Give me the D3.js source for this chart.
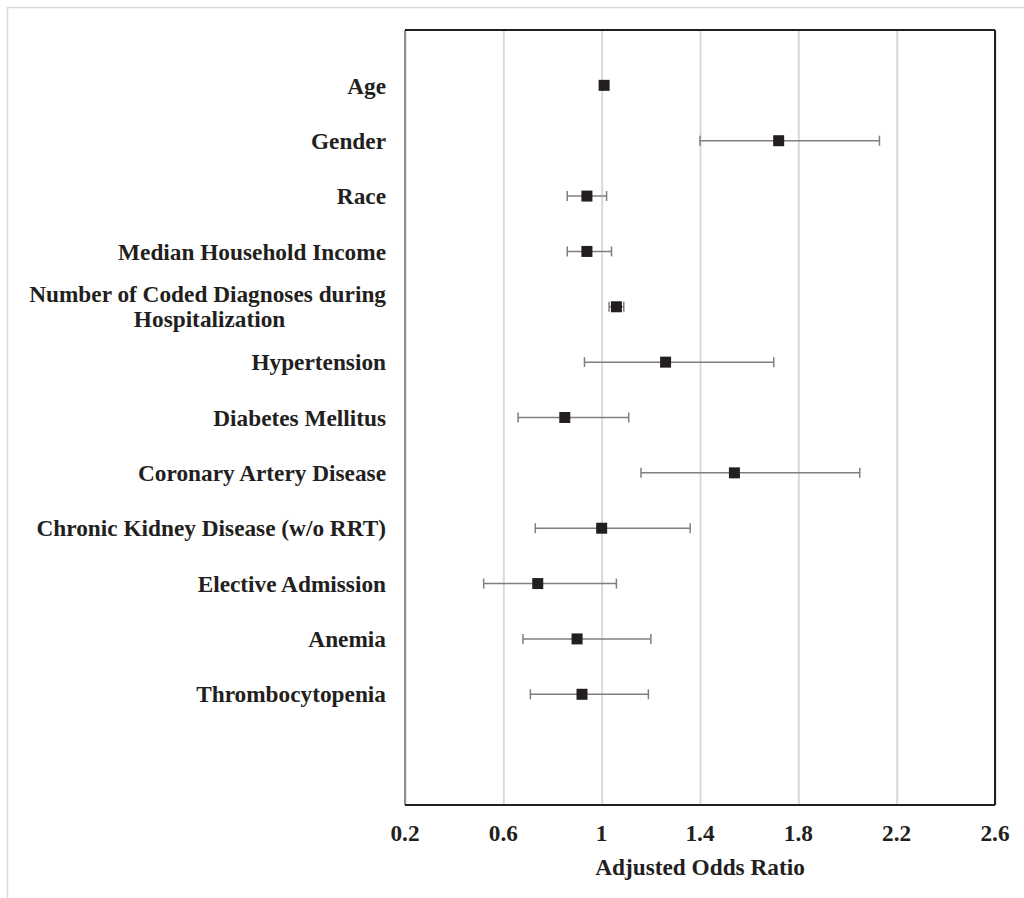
<!DOCTYPE html>
<html>
<head>
<meta charset="utf-8">
<script src="https://cdn.jsdelivr.net/npm/d3@7"></script>
<style>
  body { margin: 0; background: #fff; }
  text { font-family: "Liberation Serif", "Times New Roman", serif; font-weight: bold; fill: #231f20; }
</style>
</head>
<body>
<div id="viz"></div>
<script>
// variables top to bottom
let labels = [
  ["Age"],
  ["Gender"],
  ["Race"],
  ["Median Household Income"],
  ["Number of Coded Diagnoses during", "Hospitalization"],
  ["Hypertension"],
  ["Diabetes Mellitus"],
  ["Coronary Artery Disease"],
  ["Chronic Kidney Disease (w/o RRT)"],
  ["Elective Admission"],
  ["Anemia"],
  ["Thrombocytopenia"]
];
let oddsRatio = [1.01, 1.72, 0.94, 0.94, 1.06, 1.26, 0.85, 1.54, 1.00, 0.74, 0.90, 0.92];
let ciLow     = [1.01, 1.40, 0.86, 0.86, 1.03, 0.93, 0.66, 1.16, 0.73, 0.52, 0.68, 0.71];
let ciHigh    = [1.01, 2.13, 1.02, 1.04, 1.09, 1.70, 1.11, 2.05, 1.36, 1.06, 1.20, 1.19];
let xTicks = [0.2, 0.6, 1, 1.4, 1.8, 2.2, 2.6];

let data = labels.map((l, i) => ({
  label: l, pos: i + 1, or: oddsRatio[i], lo: ciLow[i], hi: ciHigh[i]
}));

let W = 1024, H = 898;
let margin = { top: 30, right: 29, bottom: 93, left: 405 };
let width = W - margin.left - margin.right;
let height = H - margin.top - margin.bottom;
let fs = "23.3px";

let root = d3.select("#viz").append("svg")
  .attr("width", W)
  .attr("height", H);

// outer frame
root.append("rect")
  .attr("x", 7.5).attr("y", 7.5)
  .attr("width", W + 20).attr("height", H + 20)
  .attr("fill", "none")
  .attr("stroke", "#d9d9d9")
  .attr("stroke-width", 1.5);

let svg = root.append("g")
  .attr("transform", `translate(${margin.left},${margin.top})`);

let xScale = d3.scaleLinear().domain([0.2, 2.6]).range([0, width]);
let yScale = d3.scaleLinear().domain([0, 14]).range([0, height]);

// grid
svg.append("g")
  .attr("class", "grid")
  .call(d3.axisBottom(xScale).tickValues(xTicks).tickSize(height).tickFormat(""))
  .call(g => g.select(".domain").remove())
  .selectAll("line")
  .attr("stroke", "#d9d9d9")
  .attr("stroke-width", 2);

// frame of plot
svg.append("line").attr("x1", 0).attr("x2", 0).attr("y1", 0).attr("y2", height)
  .attr("stroke", "#8c8c8c").attr("stroke-width", 2);
svg.append("line").attr("x1", 0).attr("x2", width).attr("y1", 0).attr("y2", 0)
  .attr("stroke", "#231f20").attr("stroke-width", 2);
svg.append("line").attr("x1", width).attr("x2", width).attr("y1", 0).attr("y2", height)
  .attr("stroke", "#231f20").attr("stroke-width", 2);
svg.append("line").attr("x1", 0).attr("x2", width).attr("y1", height).attr("y2", height)
  .attr("stroke", "#231f20").attr("stroke-width", 2);

// error bars
let bars = svg.append("g").selectAll("g")
  .data(data.filter(d => d.hi > d.lo))
  .enter().append("g");

bars.append("line")
  .attr("x1", d => xScale(d.lo)).attr("x2", d => xScale(d.hi))
  .attr("y1", d => yScale(d.pos)).attr("y2", d => yScale(d.pos))
  .attr("stroke", "#7f7f7f").attr("stroke-width", 1.5);
bars.append("line")
  .attr("x1", d => xScale(d.lo)).attr("x2", d => xScale(d.lo))
  .attr("y1", d => yScale(d.pos) - 5).attr("y2", d => yScale(d.pos) + 5)
  .attr("stroke", "#7f7f7f").attr("stroke-width", 1.5);
bars.append("line")
  .attr("x1", d => xScale(d.hi)).attr("x2", d => xScale(d.hi))
  .attr("y1", d => yScale(d.pos) - 5).attr("y2", d => yScale(d.pos) + 5)
  .attr("stroke", "#7f7f7f").attr("stroke-width", 1.5);

// markers
svg.append("g").selectAll("rect")
  .data(data)
  .enter().append("rect")
  .attr("x", d => xScale(d.or) - 5.5)
  .attr("y", d => yScale(d.pos) - 5.5)
  .attr("width", 11).attr("height", 11)
  .attr("fill", "#231f20");

// category labels
let lab = svg.append("g").selectAll("text")
  .data(data)
  .enter().append("text")
  .attr("x", -19)
  .attr("y", d => yScale(d.pos) - (d.label.length - 1) * 12.5)
  .attr("dy", "0.35em")
  .attr("text-anchor", "end")
  .style("font-size", fs);

lab.each(function(d) {
  let t = d3.select(this);
  if (d.label.length === 1) {
    t.text(d.label[0]);
  } else {
    t.append("tspan").attr("x", -19).text(d.label[0]);
    let first = t.select("tspan").node().getComputedTextLength();
    t.append("tspan").attr("x", -19 - first / 2 + 2).attr("dy", 25)
      .attr("text-anchor", "middle").text(d.label[1]);
  }
});

// x tick labels
svg.append("g").selectAll("text")
  .data(xTicks)
  .enter().append("text")
  .attr("x", d => xScale(d))
  .attr("y", height + 28)
  .attr("dy", "0.35em")
  .attr("text-anchor", "middle")
  .style("font-size", fs)
  .text(d => d);

svg.append("text")
  .attr("x", width / 2)
  .attr("y", height + 62)
  .attr("dy", "0.35em")
  .attr("text-anchor", "middle")
  .style("font-size", fs)
  .text("Adjusted Odds Ratio");
</script>
</body>
</html>
